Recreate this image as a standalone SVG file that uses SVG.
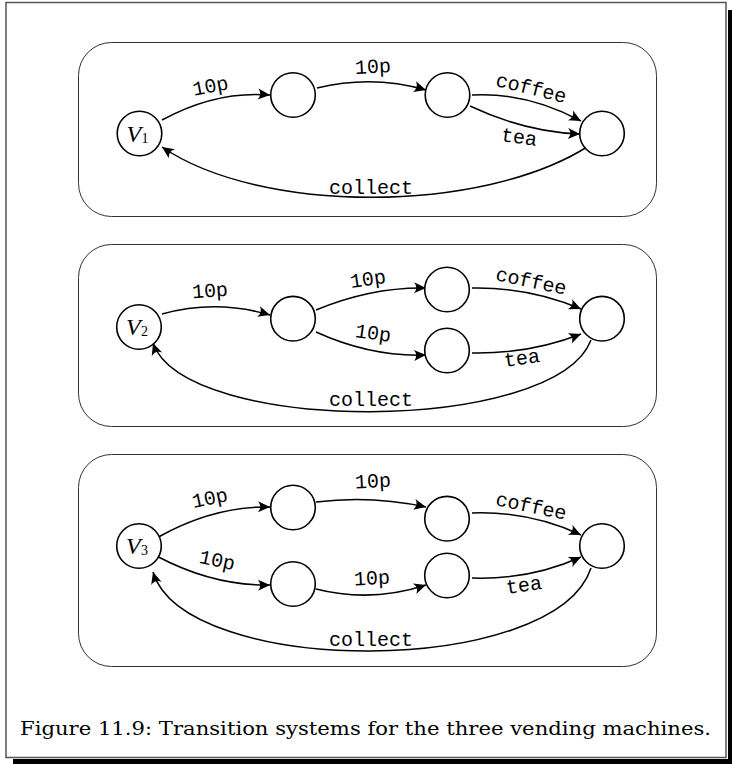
<svg xmlns="http://www.w3.org/2000/svg" width="732" height="764" viewBox="0 0 732 764">
<style>
.frame{fill:#fff;stroke:#555;stroke-width:1.5}
.box{fill:none;stroke:#333;stroke-width:1}
.node{fill:#fff;stroke:#000;stroke-width:1.6}
.edge{fill:none;stroke:#000;stroke-width:1.5;marker-end:url(#arr)}
.lbl{font-family:"Liberation Mono","DejaVu Sans Mono",monospace;font-size:20px;text-anchor:middle;dominant-baseline:central;fill:#000}
.v{font-family:"Liberation Serif","DejaVu Serif",serif;font-style:italic;font-size:24px;fill:#000}
.sub{font-family:"Liberation Serif","DejaVu Serif",serif;font-size:14px;fill:#000}
.cap{font-family:"DejaVu Serif","Liberation Serif",serif;font-size:19px;fill:#000}
</style>
<defs>
<marker id="arr" viewBox="-13 -7 14 14" refX="0" refY="0" markerWidth="14" markerHeight="14" markerUnits="userSpaceOnUse" orient="auto">
<path d="M0,0 L-12,-5.5 Q-7.5,0 -12,5.5 Z" fill="#000"/>
</marker>
</defs>
<rect x="0" y="0" width="732" height="764" fill="#fff"/>
<rect x="728" y="10" width="4" height="754" fill="#000"/>
<rect x="13" y="759" width="719" height="5" fill="#000"/>
<rect class="frame" x="6" y="2.5" width="720" height="755"/>

<g id="boxes">
<rect class="box" x="78.5" y="42.5" width="578" height="174" rx="33"/>
<rect class="box" x="78.5" y="244.5" width="578" height="182" rx="33"/>
<rect class="box" x="78.5" y="454.5" width="578" height="212" rx="33"/>
</g>

<g id="connectors">
<path class="edge" d="M162,120 Q216,90.5 270,95"/>
<path class="edge" d="M317,88 Q372.5,74.4 426,90"/>
<path class="edge" d="M472,95 Q527,92 581,121"/>
<path class="edge" d="M470,106 Q525,132 580,134"/>
<path class="edge" d="M587,147 C480,214 260,214 162,147"/>

<path class="edge" d="M162,314 Q216,299 270,315"/>
<path class="edge" d="M316,310 Q371,287 426,288"/>
<path class="edge" d="M316,332 Q371,357 426,355"/>
<path class="edge" d="M472,288 Q530,287 581,309"/>
<path class="edge" d="M472,353 Q530,354 581,334"/>
<path class="edge" d="M591,340 C555,435 185,435 153,343"/>

<path class="edge" d="M158.5,537 Q214,506 270,507"/>
<path class="edge" d="M158.5,557 Q214,586 270,585"/>
<path class="edge" d="M316,502 Q371,495 426,507"/>
<path class="edge" d="M316,589 Q371,603 426,585"/>
<path class="edge" d="M472,513 Q530,511 581,535"/>
<path class="edge" d="M472,578 Q530,580 581,557"/>
<path class="edge" d="M591,568 C555,678 185,678 153,572"/>
</g>

<g id="labels">
<text class="lbl" transform="translate(210.5,87) rotate(-11)">10p</text>
<text class="lbl" transform="translate(373,67.5) rotate(-3)">10p</text>
<text class="lbl" transform="translate(531,89) rotate(14)">coffee</text>
<text class="lbl" transform="translate(519,138) rotate(8)">tea</text>
<text class="lbl" x="371" y="188">collect</text>

<text class="lbl" transform="translate(210,291.5) rotate(-4)">10p</text>
<text class="lbl" transform="translate(368,280) rotate(-8)">10p</text>
<text class="lbl" transform="translate(373,334) rotate(8)">10p</text>
<text class="lbl" transform="translate(531,282) rotate(12)">coffee</text>
<text class="lbl" transform="translate(522,359) rotate(-8)">tea</text>
<text class="lbl" x="371" y="400">collect</text>

<text class="lbl" transform="translate(210,499) rotate(-12)">10p</text>
<text class="lbl" transform="translate(217,561) rotate(12)">10p</text>
<text class="lbl" transform="translate(373,482) rotate(-3)">10p</text>
<text class="lbl" transform="translate(372,579) rotate(-3)">10p</text>
<text class="lbl" transform="translate(531,507) rotate(12)">coffee</text>
<text class="lbl" transform="translate(524,586) rotate(-8)">tea</text>
<text class="lbl" x="371" y="640">collect</text>
</g>

<g id="V1"><circle class="node" cx="139.5" cy="133.5" r="22.3"/><text class="v" x="126.5" y="141.5">V</text><text class="sub" x="141.5" y="142.5">1</text></g>
<g id="A1"><circle class="node" cx="293" cy="95" r="22.3"/></g>
<g id="B1"><circle class="node" cx="447.5" cy="95" r="22.3"/></g>
<g id="C1"><circle class="node" cx="602" cy="133.5" r="22.3"/></g>

<g id="V2"><circle class="node" cx="139" cy="327" r="22.3"/><text class="v" x="126" y="335">V</text><text class="sub" x="141" y="336">2</text></g>
<g id="A2"><circle class="node" cx="293" cy="318.7" r="22.3"/></g>
<g id="B2t"><circle class="node" cx="447" cy="289.5" r="22.3"/></g>
<g id="B2b"><circle class="node" cx="447" cy="350.5" r="22.3"/></g>
<g id="C2"><circle class="node" cx="602" cy="318.7" r="22.3"/></g>

<g id="V3"><circle class="node" cx="139" cy="546" r="22.3"/><text class="v" x="126" y="554">V</text><text class="sub" x="141" y="555">3</text></g>
<g id="A3t"><circle class="node" cx="293" cy="507.5" r="22.3"/></g>
<g id="B3t"><circle class="node" cx="447" cy="518.7" r="22.3"/></g>
<g id="A3b"><circle class="node" cx="293" cy="584" r="22.3"/></g>
<g id="B3b"><circle class="node" cx="447" cy="575.5" r="22.3"/></g>
<g id="C3"><circle class="node" cx="602" cy="546" r="22.3"/></g>

<text class="cap" x="20" y="735" textLength="691" lengthAdjust="spacingAndGlyphs">Figure 11.9: Transition systems for the three vending machines.</text>
</svg>
